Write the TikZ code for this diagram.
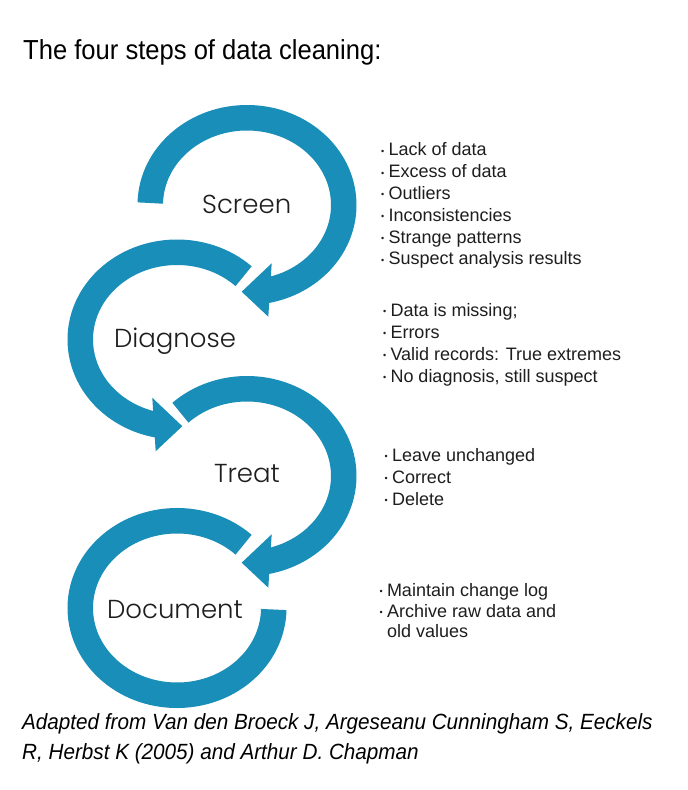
\documentclass[tikz,border=0pt]{standalone}
\usepackage{fontspec}
\setmainfont{Liberation Sans}
\newfontfamily\titlef[FakeStretch=0.93]{Liberation Sans}
\newfontfamily\itemf{Liberation Sans}
\newfontfamily\capf[FakeStretch=0.94]{Liberation Sans}
\IfFontExistsTF{Poppins Light}{\newfontfamily\labf{Poppins Light}}{\newfontfamily\labf{Poppins}}
\definecolor{ringblue}{RGB}{25,142,185}
\definecolor{txt}{RGB}{30,30,30}
\newcommand\bul{\makebox[7.3pt][l]{\fontsize{9}{9}\selectfont\raisebox{1.5pt}{•}}}
\tikzset{
  ring/.style={draw=ringblue, line width=25.5pt, line cap=butt},
  head/.style={fill=ringblue},
  steplabel/.style={anchor=base, inner sep=0pt, text=txt, font=\labf\fontsize{26}{30}\selectfont},
  item/.style={anchor=base west, inner sep=0pt, text=txt, font=\itemf\fontsize{18}{22}\selectfont},
  capline/.style={anchor=base west, inner sep=0pt, text=black, font=\capf\itshape\fontsize{22}{30}\selectfont},
}
\begin{document}
\begin{tikzpicture}[x=1pt, y=-1pt]
\fill[white] (0,0) rectangle (688,790);
\useasboundingbox (0,0) rectangle (688,790);
% ring centres
\coordinate (cS) at (247,205);
\coordinate (cD) at (177,339.5);
\coordinate (cT) at (247,476);
\coordinate (cC) at (177,608);
% Screen ring
\draw[ring] (cS) ++(-178.7:96.75 and 87.25) arc[start angle=-178.7, end angle=79, x radius=96.75, y radius=87.25];
\fill[head, shift={(cS)}] (24.7,58.3) -- (-5.3,86.7) -- (21.3,111.7) -- cycle;
% Diagnose ring
\draw[ring] (cD) ++(-46.5:96.75 and 87.25) arc[start angle=-46.5, end angle=-259, x radius=96.75, y radius=87.25];
\fill[head, shift={(cD)}] (-24.7,58.3) -- (5.3,86.7) -- (-21.3,111.7) -- cycle;
% Treat ring
\draw[ring] (cT) ++(-133.5:96.75 and 87.25) arc[start angle=-133.5, end angle=79, x radius=96.75, y radius=87.25];
\fill[head, shift={(cT)}] (24.7,58.3) -- (-5.3,86.7) -- (21.3,111.7) -- cycle;
% Document ring
\draw[ring] (cC) ++(-46.5:96.75 and 87.25) arc[start angle=-46.5, end angle=-359, x radius=96.75, y radius=87.25];
% title
\node[anchor=base west, inner sep=0pt, font=\titlef\fontsize{27.5}{30}\selectfont] (title) at (23,59.3) {The four steps of data cleaning:};
% step labels
\node[steplabel] (screen) at (246.7,213.3) {Screen};
\node[steplabel] (diagnose) at (175,347.7) {Diagnose};
\node[steplabel] (treat) at (247,482.7) {Treat};
\node[steplabel] (document) at (175,618.3) {Document};
% lists
\foreach \t [count=\i] in {Lack of data, Excess of data, Outliers, Inconsistencies, Strange patterns, Suspect analysis results}
  \node[item] (ls\i) at (381, 134+21.8*\i) {\bul\t};
\foreach \t [count=\i] in {Data is missing;, Errors, {Valid records: True extremes}, {No diagnosis, still suspect}}
  \node[item] (ld\i) at (383, 294+22*\i) {\bul\t};
\foreach \t [count=\i] in {Leave unchanged, Correct, Delete}
  \node[item] (lt\i) at (384.5, 439+22*\i) {\bul\t};
\node[item] (lc1) at (379.5, 596) {\bul Maintain change log};
\node[item] (lc2) at (379.5, 617) {\bul Archive raw data and};
\node[item] (lc3) at (386.8, 637) {old values};
% caption
\node[capline] (cap1) at (22,729) {Adapted from Van den Broeck J, Argeseanu Cunningham S, Eeckels};
\node[capline] (cap2) at (22,759) {R, Herbst K (2005) and Arthur D. Chapman};
\end{tikzpicture}
\end{document}
